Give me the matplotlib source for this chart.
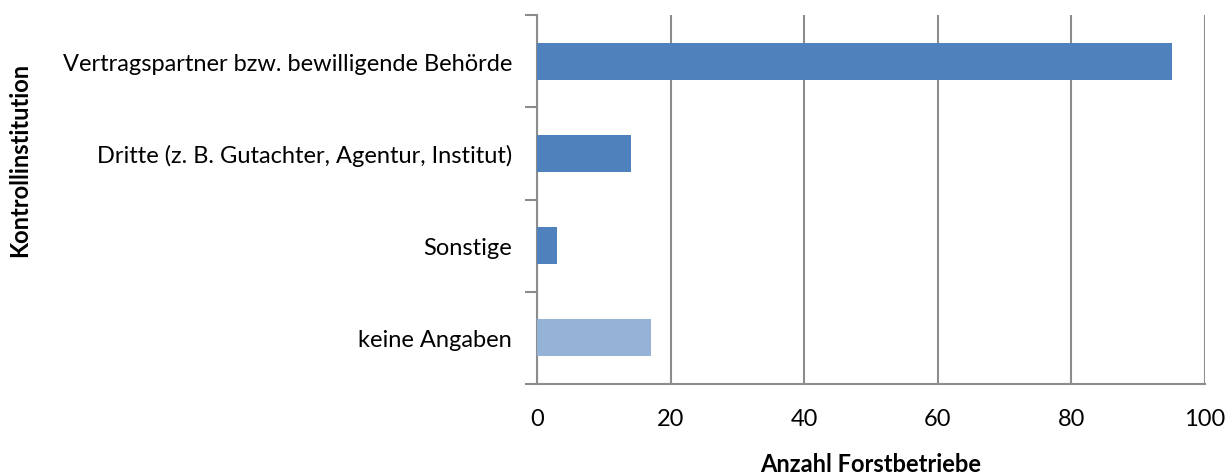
import matplotlib
matplotlib.use("Agg")
import matplotlib.pyplot as plt

# data
categories = ["Vertragspartner bzw. bewilligende Behörde",
              "Dritte (z. B. Gutachter, Agentur, Institut)",
              "Sonstige",
              "keine Angaben"]
values = [95, 14, 3, 17]
bar_colors = ["#4F81BD", "#4F81BD", "#4F81BD", "#95B3D7"]
xticks = [0, 20, 40, 60, 80, 100]

plt.rcParams['font.family'] = ['Lato', 'DejaVu Sans']
fs = 17

fig = plt.figure(figsize=(12.27, 4.77), dpi=100)
ax = fig.add_axes([537 / 1227, 1 - 385 / 477, (1205 - 537) / 1227, (385 - 16) / 477])

ypos = list(range(len(categories)))
ax.barh(ypos, values, height=0.4, color=bar_colors, zorder=3)
ax.set_ylim(len(categories) - 0.5, -0.5)
ax.set_xlim(0, 100)

ax.set_xticks(xticks)
ax.set_xticklabels([str(t) for t in xticks], fontsize=fs)
ax.tick_params(axis='x', length=0, pad=17)
ax.xaxis.grid(True, color="#8C8C8C", linewidth=1.5, zorder=0)

# y ticks at category boundaries, labels centred on the bars
ax.set_yticks([i - 0.5 for i in range(len(categories) + 1)])
ax.set_yticklabels([])
ax.set_yticks(ypos, minor=True)
ax.set_yticklabels(categories, minor=True, fontsize=fs)
ax.tick_params(axis='y', which='major', length=9, width=1.5, color="#8C8C8C", direction='out')
ax.tick_params(axis='y', which='minor', length=0, pad=18)

for side in ["top", "right"]:
    ax.spines[side].set_visible(False)
for side in ["left", "bottom"]:
    ax.spines[side].set_color("#8C8C8C")
    ax.spines[side].set_linewidth(1.5)

fig.text(871 / 1227, 1 - 465 / 477, "Anzahl Forstbetriebe", fontsize=fs,
         fontweight='bold', ha='center', va='center')
fig.text(20 / 1227, 1 - 160 / 477, "Kontrollinstitution", rotation=90, fontsize=fs,
         fontweight='bold', ha='center', va='center')

fig.savefig("out.png", dpi=100)
